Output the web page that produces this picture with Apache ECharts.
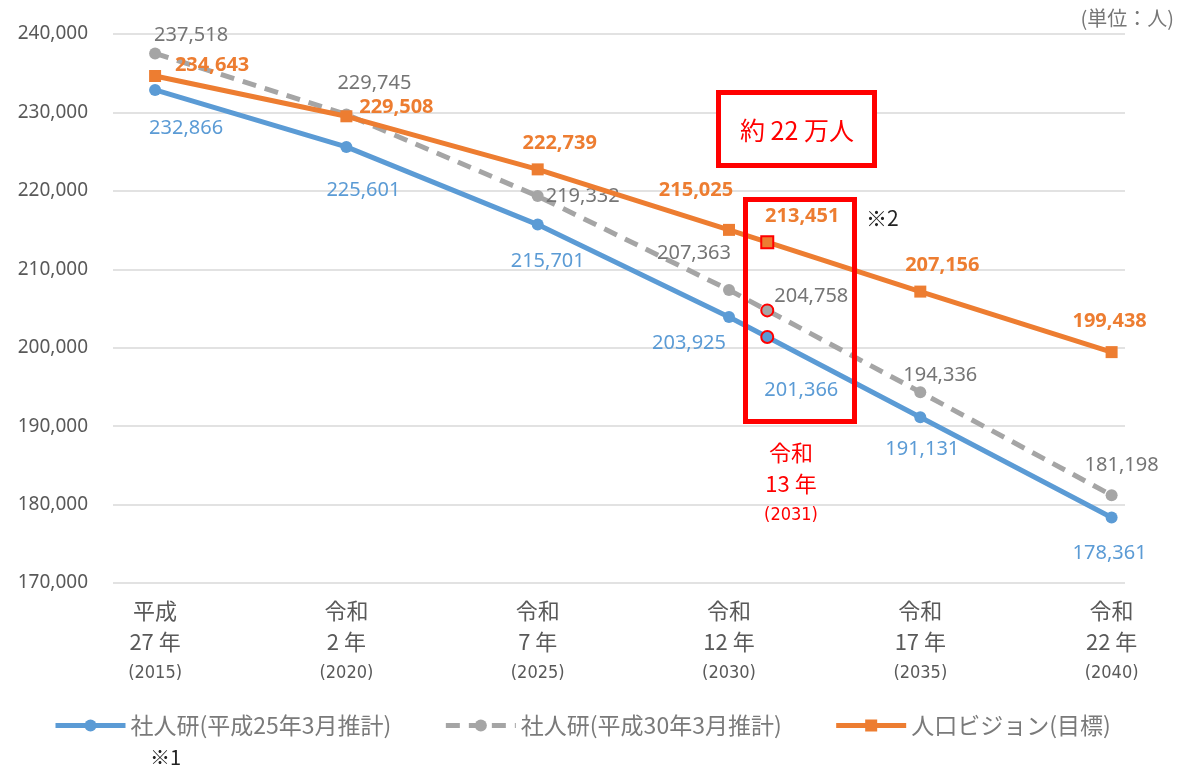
<!DOCTYPE html>
<html>
<head>
<meta charset="utf-8">
<script src="https://cdn.jsdelivr.net/npm/echarts@6/dist/echarts.min.js"></script>
<style>
  html, body { margin: 0; padding: 0; background: #fff; }
  #chart { width: 1186px; height: 771px; }
</style>
</head>
<body>
<div id="chart"></div>
<script>
  // 年次
  var years = [2015, 2020, 2025, 2030, 2031, 2035, 2040];
  // 社人研(平成25年3月推計)
  var seriesH25 = [232866, 225601, 215701, 203925, 201366, 191131, 178361];
  // 社人研(平成30年3月推計)
  var seriesH30 = [237518, 229745, 219332, 207363, 204758, 194336, 181198];
  // 人口ビジョン(目標)
  var seriesVision = [234643, 229508, 222739, 215025, 213451, 207156, 199438];

  // x軸の目盛ラベル
  var tickYears = [2015, 2020, 2025, 2030, 2035, 2040];
  var eraLabels = ['平成', '令和', '令和', '令和', '令和', '令和'];
  var eraYearLabels = ['27 年', '2 年', '7 年', '12 年', '17 年', '22 年'];
  var adLabels = ['(2015)', '(2020)', '(2025)', '(2030)', '(2035)', '(2040)'];

  var names = ['社人研(平成25年3月推計)', '社人研(平成30年3月推計)', '人口ビジョン(目標)'];

  // ラベル位置の調整 (px)
  var offH25 = [[31, 38], [17, 43], [10, 37], [-40, 26], [34, 53], [2, 32], [-2, 36]];
  var offH30 = [[36, -18], [28, -31], [45, 0], [-35, -37], [44, -14], [20, -17], [10, -30]];
  var offVision = [[57, -11], [50, -9], [22, -26], [-33, -40], [35, -26], [22, -26], [-2, -31]];

  var fontNum = '"Noto Sans", "Noto Sans CJK JP", sans-serif';
  var fontJp = '"Noto Sans CJK JP", sans-serif';
  var fontNarrow = '"Liberation Sans Narrow", "DejaVu Sans Condensed", sans-serif';
  var highlightYear = 2031;

  function buildData(values, offsets) {
    return values.map(function (v, i) {
      var item = {
        value: [years[i], v],
        label: { offset: offsets[i] }
      };
      if (years[i] === highlightYear) {
        item.itemStyle = { borderColor: '#FF0000', borderWidth: 2 };
      }
      return item;
    });
  }

  var myChart = echarts.init(document.getElementById('chart'));

  var options = {
    backgroundColor: '#ffffff',
    animation: false,
    grid: {
      left: 113,
      right: 61,
      top: 34,
      height: 549
    },
    legend: {
      left: 48,
      top: 709,
      itemGap: 52,
      itemWidth: 70,
      itemHeight: 15,
      lineStyle: { width: 5 },
      textStyle: { fontSize: 23, color: '#7a7a7a', fontFamily: fontJp },
      data: names
    },
    xAxis: [{
      type: 'value',
      min: 2013.9,
      max: 2040.35,
      axisLine: { show: false },
      axisTick: { show: false },
      splitLine: { show: false },
      axisLabel: {
        customValues: tickYears,
        margin: 12,
        formatter: function (val) {
          var i = tickYears.indexOf(Math.round(val));
          if (i < 0) return '';
          return '{a|' + eraLabels[i] + '}\n{a|' + eraYearLabels[i] + '}\n{c|' + adLabels[i] + '}';
        },
        rich: {
          a: { fontSize: 22, lineHeight: 31, color: '#595959', fontFamily: fontJp },
          c: { fontSize: 18, lineHeight: 33, color: '#595959', fontFamily: fontNarrow }
        }
      }
    }],
    yAxis: [{
      type: 'value',
      min: 170000,
      max: 240000,
      interval: 10000,
      axisLine: { show: false },
      axisTick: { show: false },
      splitLine: { lineStyle: { color: '#D9D9D9', width: 1.5 } },
      axisLabel: {
        margin: 25,
        fontSize: 19,
        color: '#595959',
        fontFamily: fontNum,
        formatter: function (v) { return v.toLocaleString('en-US'); }
      }
    }],
    series: [
      {
        name: names[0],
        type: 'line',
        data: buildData(seriesH25, offH25),
        symbol: 'circle',
        symbolSize: 12,
        lineStyle: { color: '#5B9BD5', width: 5 },
        itemStyle: { color: '#5B9BD5' },
        label: {
          show: true,
          position: 'inside',
          color: '#5B9BD5',
          fontSize: 20,
          fontFamily: fontNum,
          formatter: function (p) { return p.value[1].toLocaleString('en-US'); }
        },
        z: 3
      },
      {
        name: names[1],
        type: 'line',
        data: buildData(seriesH30, offH30),
        symbol: 'circle',
        symbolSize: 12,
        lineStyle: { color: '#A5A5A5', width: 5, type: [14, 9] },
        itemStyle: { color: '#A5A5A5' },
        label: {
          show: true,
          position: 'inside',
          color: '#757575',
          fontSize: 20,
          fontFamily: fontNum,
          formatter: function (p) { return p.value[1].toLocaleString('en-US'); }
        },
        z: 2
      },
      {
        name: names[2],
        type: 'line',
        data: buildData(seriesVision, offVision),
        symbol: 'rect',
        symbolSize: 12,
        lineStyle: { color: '#ED7D31', width: 5 },
        itemStyle: { color: '#ED7D31' },
        label: {
          show: true,
          position: 'inside',
          color: '#ED7D31',
          fontSize: 20,
          fontWeight: 'bold',
          fontFamily: fontNum,
          formatter: function (p) { return p.value[1].toLocaleString('en-US'); }
        },
        z: 4
      }
    ],
    graphic: [
      {
        type: 'text', right: 12, top: 8, z: 10,
        style: { text: '(単位：人)', fontSize: 20, fill: '#777777', fontFamily: fontJp, backgroundColor: '#fff' }
      },
      {
        type: 'rect', z: 10,
        shape: { x: 745.5, y: 199.5, width: 109, height: 222 },
        style: { fill: 'none', stroke: '#FF0000', lineWidth: 5 }
      },
      {
        type: 'rect', z: 10,
        shape: { x: 718.5, y: 92.5, width: 156, height: 73 },
        style: { fill: '#ffffff', stroke: '#FF0000', lineWidth: 5 }
      },
      {
        type: 'text', x: 797, y: 130, z: 11,
        style: { text: '約 22 万人', fontSize: 25, fill: '#FF0000', fontFamily: fontJp, align: 'center', verticalAlign: 'middle' }
      },
      {
        type: 'text', x: 866, y: 218, z: 11,
        style: { text: '※2', fontSize: 21, fill: '#222222', fontFamily: fontJp, verticalAlign: 'middle' }
      },
      {
        type: 'text', x: 791, y: 437, z: 11,
        style: {
          text: '{a|令和}\n{a|13 年}\n{c|(2031)}',
          align: 'center',
          rich: {
            a: { fontSize: 22, lineHeight: 31, fill: '#FF0000', fontFamily: fontJp, align: 'center' },
            c: { fontSize: 18, lineHeight: 33, fill: '#FF0000', fontFamily: fontNarrow, align: 'center' }
          }
        }
      },
      {
        type: 'text', x: 150, y: 757, z: 11,
        style: { text: '※1', fontSize: 20, fill: '#222222', fontFamily: fontJp, verticalAlign: 'middle' }
      }
    ]
  };

  myChart.setOption(options);
</script>
</body>
</html>
